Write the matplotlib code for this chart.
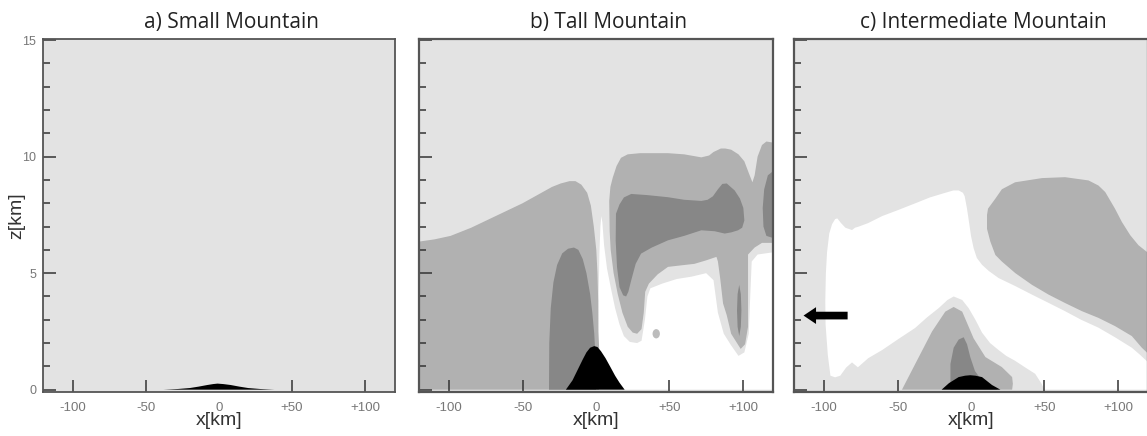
import numpy as np
import matplotlib
matplotlib.use("Agg")
import matplotlib.pyplot as plt
from matplotlib.patches import Ellipse, FancyArrow

# colours of the shaded levels
LIGHT = "#e3e3e3"
MEDIUM = "#b1b1b1"
DARK = "#878787"
WHITE = "#ffffff"

TITLES = ["a) Small Mountain", "b) Tall Mountain", "c) Intermediate Mountain"]
XTICKS = [-100, -50, 0, 50, 100]
XTICK_LABELS = ["-100", "-50", "0", "+50", "+100"]
YTICKS = [0, 5, 10, 15]

# --- a) small mountain (x km, z km)
A_MOUNT_X = [-38, -28, -20, -14, -8, -4, -1, 3, 8, 14, 20, 28, 38]
A_MOUNT_Z = [0, 0.03, 0.07, 0.13, 0.2, 0.24, 0.26, 0.24, 0.2, 0.13, 0.07, 0.03, 0]

# --- b) tall mountain
B_WHITE_X = [1.2, 1.6, 1.8, 2.3, 3.0, 3.6, 4.3, 5.5, 7.5, 10, 13, 16, 19, 23, 28, 31, 33.3, 35, 37,
             45, 55, 65, 75, 80, 83, 87, 92, 97, 101, 104, 105, 106, 110, 121, 121]
B_WHITE_Z = [0, 2.0, 4.0, 5.8, 7.0, 7.45, 7.2, 6.2, 5.2, 4.4, 3.5, 2.8, 2.3, 2.05, 2.0, 2.1, 3.0, 4.0,
             4.35, 4.55, 4.75, 4.85, 5.0, 4.7, 3.3, 2.4, 1.9, 1.45, 1.6, 2.4, 4.0, 5.5, 5.8, 5.9, 0]

B_MED_LEFT_X = [-121, -121, -110, -99, -85, -65, -50, -40, -30, -24, -18, -14, -10, -6, -3.5, -1.5,
                0.2, 1.0, 1.5, 1.6, 2.2, 2.0]
B_MED_LEFT_Z = [0, 6.35, 6.45, 6.6, 6.95, 7.55, 8.0, 8.35, 8.7, 8.85, 8.95, 8.95, 8.8, 8.45, 7.9, 7.0,
                6.0, 5.0, 3.8, 2.5, 1.7, 0]

B_DARK_LEFT_X = [-32, -31.8, -30.8, -29, -26.5, -23, -19, -15, -12, -9, -6.5, -4, -2.5, -1.2, -0.5, 0]
B_DARK_LEFT_Z = [0, 2.0, 3.5, 4.6, 5.35, 5.85, 6.05, 6.1, 6.0, 5.6, 5.0, 4.1, 3.3, 2.4, 1.6, 0]

B_MED_RIGHT_X = [11.4, 14, 17, 21.6, 30, 49, 60, 71.7, 77, 80, 85, 88, 92, 97, 101, 104, 106.5, 108,
                 110, 113, 116, 121, 121, 113, 108, 103.5, 103.5, 101.5, 98.5, 95, 92, 89, 86.5, 84.5,
                 83, 82, 75, 67, 60, 49, 42, 36, 33.5, 32.5, 31, 28, 25, 21.6, 18, 14.8, 12, 10, 9.3,
                 9, 9.8]
B_MED_RIGHT_Z = [9.1, 9.6, 9.95, 10.1, 10.15, 10.15, 10.1, 9.97, 10.05, 10.2, 10.35, 10.35, 10.3, 10.1,
                 9.8, 9.3, 8.9, 9.2, 10.0, 10.5, 10.65, 10.6, 6.3, 6.3, 6.1, 5.8, 2.7, 1.95, 1.75, 2.1,
                 2.4, 3.2, 3.7, 4.8, 5.5, 5.7, 5.55, 5.4, 5.35, 5.27, 4.95, 4.55, 4.2, 3.3, 2.6, 2.4,
                 2.45, 2.7, 3.3, 4.1, 5.0, 6.0, 6.8, 8.1, 8.7]

B_DARK_RIGHT_X = [13.6, 16, 19, 24, 35, 49, 60, 71.7, 76, 79.6, 83, 86, 89, 94.4, 98, 100.3, 101, 99.5,
                  96.7, 92, 87.6, 80.8, 71.7, 60, 49, 38, 30.7, 27, 24, 22, 20.5, 18.5, 16, 14.3, 13.4]
B_DARK_RIGHT_Z = [7.55, 7.95, 8.25, 8.4, 8.35, 8.26, 8.15, 8.1, 8.15, 8.3, 8.6, 8.83, 8.85, 8.55, 8.2,
                  7.8, 7.26, 6.95, 6.84, 6.75, 6.7, 6.8, 6.84, 6.6, 6.41, 6.1, 5.84, 5.4, 4.7, 4.2,
                  4.0, 4.05, 4.4, 5.27, 6.4]

B_DARK_EDGE_X = [121, 117, 114.5, 113.5, 114, 116, 121]
B_DARK_EDGE_Z = [9.4, 9.2, 8.6, 7.8, 7.0, 6.6, 6.5]

B_DARK_STREAK_X = [97.5, 98.6, 99.0, 98.6, 97.5, 96.4, 96.0, 96.4]
B_DARK_STREAK_Z = [4.5, 4.1, 3.4, 2.7, 2.3, 2.7, 3.4, 4.1]

B_BLOB = (41, 2.4, 5.0, 0.4)  # centre x, centre z, width, height

B_MOUNT_X = [-20.5, -16, -12.5, -9, -6.5, -4, -1.2, 1, 3.4, 6.5, 10, 13, 16, 19.5]
B_MOUNT_Z = [0, 0.4, 0.85, 1.3, 1.6, 1.8, 1.87, 1.83, 1.65, 1.35, 0.95, 0.6, 0.3, 0]

# --- c) intermediate mountain
C_WHITE_X = [-95.7, -97.5, -99, -99.2, -98.8, -98, -96.5, -94.6, -92.5, -91, -88.5, -85.5, -81, -79,
             -76.4, -70, -60.5, -50, -37.9, -28, -17.5, -12, -8.4, -5.5, -4.3, -2.8, -1.6, 0, 1.8, 4,
             7.5, 12, 18.8, 30, 41.5, 52, 64, 75, 86.8, 98, 109.5, 115, 121, 121, 50, 48, 43.7, 37,
             30, 24, 18.8, 13, 7.5, 3, -1.6, -6, -11.8, -16, -22, -30, -38, -50, -60.5, -70, -77,
             -81, -85, -89, -92.5]
C_WHITE_Z = [0.6, 1.5, 2.8, 3.8, 5.0, 5.9, 6.7, 7.1, 7.32, 7.35, 7.15, 6.95, 6.85, 6.95, 7.0, 7.15,
             7.45, 7.7, 8.0, 8.25, 8.45, 8.55, 8.55, 8.45, 8.3, 7.8, 7.3, 6.6, 6.07, 5.65, 5.36, 5.1,
             4.79, 4.45, 4.08, 3.75, 3.37, 3.0, 2.66, 2.25, 1.8, 1.5, 1.15, 0, 0, 0.26, 0.68, 0.95,
             1.24, 1.45, 1.7, 2.0, 2.45, 3.0, 3.5, 3.85, 4.0, 3.85, 3.5, 3.1, 2.65, 2.15, 1.7, 1.35,
             0.96, 1.17, 0.95, 0.6, 0.53]

C_MED_TRI_X = [-47, -38, -26.5, -17.5, -11.8, -6, 1.8, 9.8, 21, 28, 28.5, 28]
C_MED_TRI_Z = [0, 1.1, 2.5, 3.35, 3.55, 3.35, 2.2, 1.4, 0.97, 0.54, 0.25, 0]

C_DARK_TRI_X = [-14, -14, -11.8, -8.4, -5, -2.7, -0.5, 2.7, 7.5, 14.3, 18]
C_DARK_TRI_Z = [0, 1.1, 1.8, 2.15, 2.25, 1.95, 1.4, 0.8, 0.38, 0.17, 0]

C_MED_BLOB_X = [10.9, 11.6, 16.6, 21, 30, 48.3, 64, 80, 86.8, 91.4, 98, 102.7, 108.4, 114, 121, 121,
                116.3, 109.5, 98, 86.8, 75.5, 64, 52.8, 41.5, 30.2, 21, 16.6, 13.2, 10.9]
C_MED_BLOB_Z = [7.5, 7.77, 8.2, 8.6, 8.9, 9.08, 9.12, 8.98, 8.76, 8.48, 7.77, 7.2, 6.63, 6.2, 5.85,
                1.52, 1.8, 2.3, 2.73, 3.08, 3.37, 3.72, 4.08, 4.5, 5.0, 5.5, 5.78, 6.35, 6.9]

C_MOUNT_X = [-20, -15, -8.4, -4, -0.5, 3, 7.5, 14.3, 20]
C_MOUNT_Z = [0, 0.28, 0.54, 0.6, 0.62, 0.6, 0.54, 0.2, 0]

C_ARROW_TAIL = (-84, 3.18)
C_ARROW_TIP = (-114, 3.18)

XLIM = (-120.5, 120.5)
YLIM = (-0.1, 15.05)

plt.rcParams["font.family"] = ["Open Sans", "DejaVu Sans"]

fig = plt.figure(figsize=(11.47, 4.36), dpi=100)
W, H = 1147.0, 436.0
boxes = [(43, 395), (419, 773), (794, 1148)]
top, bottom = 39, 392

axes = []
for i, (l, r) in enumerate(boxes):
    ax = fig.add_axes([l / W, (H - bottom) / H, (r - l) / W, (bottom - top) / H])
    ax.set_facecolor(LIGHT)
    ax.set_xlim(*XLIM)
    ax.set_ylim(*YLIM)
    ax.set_xticks(XTICKS)
    ax.set_xticklabels(XTICK_LABELS, fontsize=9.5, color="#777777", family="Liberation Sans")
    ax.set_yticks(YTICKS)
    ax.set_yticks(np.arange(0, 16, 1), minor=True)
    if i == 0:
        ax.set_yticklabels([str(t) for t in YTICKS], fontsize=9, color="#777777",
                           family="Liberation Sans")
        ax.set_ylabel("z[km]", fontsize=14, color="#333333", family="Liberation Sans")
        ax.yaxis.set_label_coords(-0.05, 0.5)
    else:
        ax.set_yticklabels([])
    ax.tick_params(axis="x", which="major", direction="in", length=9, width=1.1,
                   color="#333333", pad=7)
    ax.tick_params(axis="y", which="major", direction="in", length=9, width=1.1,
                   color="#333333", pad=5)
    ax.tick_params(axis="y", which="minor", direction="in", length=5, width=1.1, color="#333333")
    ax.xaxis.get_major_ticks()[2].tick1line.set_visible(False)
    ax.set_xlabel("x[km]", fontsize=14, color="#333333", family="Liberation Sans", labelpad=-1)
    for s in ax.spines.values():
        s.set_color("#555555")
        s.set_linewidth(1.3 if i == 0 else 1.6)
    ax.text(0.535, 1.018, TITLES[i], transform=ax.transAxes, ha="center", va="bottom",
            fontsize=15, color="#222222")
    axes.append(ax)

ax_a, ax_b, ax_c = axes

# a)
ax_a.fill(A_MOUNT_X, A_MOUNT_Z, color="black", lw=0)

# b)
ax_b.fill(B_WHITE_X, B_WHITE_Z, color=WHITE, lw=0)
ax_b.fill(B_MED_LEFT_X, B_MED_LEFT_Z, color=MEDIUM, lw=0)
ax_b.fill(B_MED_RIGHT_X, B_MED_RIGHT_Z, color=MEDIUM, lw=0)
ax_b.add_patch(Ellipse(B_BLOB[:2], B_BLOB[2], B_BLOB[3], color="#bcbcbc", lw=0))
ax_b.fill(B_DARK_LEFT_X, B_DARK_LEFT_Z, color=DARK, lw=0)
ax_b.fill(B_DARK_RIGHT_X, B_DARK_RIGHT_Z, color=DARK, lw=0)
ax_b.fill(B_DARK_EDGE_X, B_DARK_EDGE_Z, color=DARK, lw=0)
ax_b.fill(B_DARK_STREAK_X, B_DARK_STREAK_Z, color=DARK, lw=0)
ax_b.fill(B_MOUNT_X, B_MOUNT_Z, color="black", lw=0)

# c)
ax_c.fill(C_WHITE_X, C_WHITE_Z, color=WHITE, lw=0)
ax_c.fill(C_MED_BLOB_X, C_MED_BLOB_Z, color=MEDIUM, lw=0)
ax_c.fill(C_MED_TRI_X, C_MED_TRI_Z, color=MEDIUM, lw=0)
ax_c.fill(C_DARK_TRI_X, C_DARK_TRI_Z, color=DARK, lw=0)
ax_c.fill(C_MOUNT_X, C_MOUNT_Z, color="black", lw=0)
ax_c.add_patch(FancyArrow(C_ARROW_TAIL[0], C_ARROW_TAIL[1],
                          C_ARROW_TIP[0] - C_ARROW_TAIL[0], C_ARROW_TIP[1] - C_ARROW_TAIL[1],
                          width=0.33, head_width=0.72, head_length=8.5,
                          length_includes_head=True, color="black", lw=0, zorder=5))

fig.savefig("out.png", dpi=100)
